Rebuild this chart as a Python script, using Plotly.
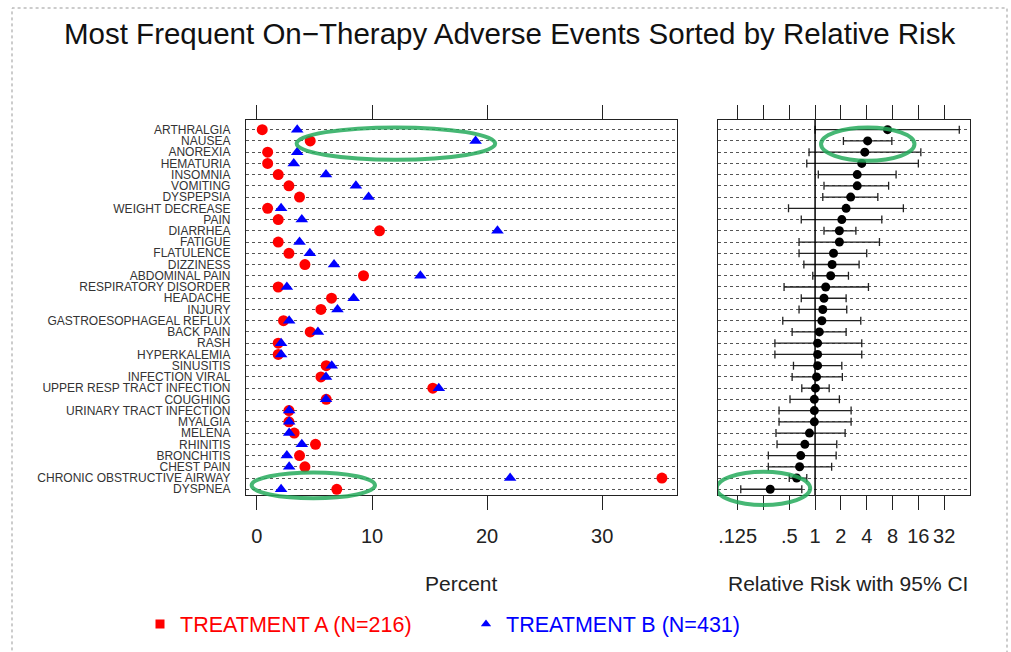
import numpy as np
import plotly.graph_objects as go

# Adverse events, ordered by relative risk (highest first)
events = [
    "ARTHRALGIA", "NAUSEA", "ANOREXIA", "HEMATURIA", "INSOMNIA", "VOMITING",
    "DYSPEPSIA", "WEIGHT DECREASE", "PAIN", "DIARRHEA", "FATIGUE", "FLATULENCE",
    "DIZZINESS", "ABDOMINAL PAIN", "RESPIRATORY DISORDER", "HEADACHE", "INJURY",
    "GASTROESOPHAGEAL REFLUX", "BACK PAIN", "RASH", "HYPERKALEMIA", "SINUSITIS",
    "INFECTION VIRAL", "UPPER RESP TRACT INFECTION", "COUGHING",
    "URINARY TRACT INFECTION", "MYALGIA", "MELENA", "RHINITIS", "BRONCHITIS",
    "CHEST PAIN", "CHRONIC OBSTRUCTIVE AIRWAY", "DYSPNEA",
]

# Percent of patients with each event
pct_a = [0.46, 4.63, 0.93, 0.93, 1.85, 2.78, 3.70, 0.93, 1.85, 10.65, 1.85,
         2.78, 4.17, 9.26, 1.85, 6.48, 5.56, 2.31, 4.63, 1.85, 1.85, 6.02,
         5.56, 15.28, 6.02, 2.78, 2.78, 3.24, 5.09, 3.70, 4.17, 35.19, 6.94]
pct_b = [3.5, 19.0, 3.5, 3.2, 6.0, 8.6, 9.7, 2.1, 3.9, 20.9, 3.7,
         4.6, 6.7, 14.2, 2.6, 8.4, 7.0, 2.8, 5.3, 2.1, 2.1, 6.5,
         6.0, 15.8, 6.0, 2.8, 2.8, 2.8, 3.9, 2.6, 2.8, 22.0, 2.1]

# Relative risk (B vs A) with 95% confidence limits
rel_risk = [7.0, 4.1, 3.8, 3.5, 3.1, 3.1, 2.6, 2.3, 2.05, 1.92, 1.92,
            1.64, 1.58, 1.52, 1.33, 1.27, 1.23, 1.2, 1.12, 1.07, 1.07, 1.07,
            1.04, 1.01, 0.98, 0.98, 0.98, 0.86, 0.76, 0.68, 0.66, 0.61, 0.30]
ci_low = [1.0, 2.14, 0.85, 0.80, 1.09, 1.27, 1.23, 0.49, 0.69, 1.27, 0.65,
          0.65, 0.74, 0.94, 0.435, 0.69, 0.65, 0.42, 0.54, 0.34, 0.34, 0.56,
          0.54, 0.70, 0.51, 0.38, 0.38, 0.35, 0.36, 0.285, 0.285, 0.50, 0.136]
ci_high = [48, 7.85, 17.1, 16.0, 8.8, 7.2, 5.39, 10.7, 6.0, 2.99, 5.63,
           4.0, 3.26, 2.45, 4.19, 2.3, 2.34, 3.41, 2.3, 3.5, 3.5, 2.05,
           2.08, 1.46, 1.92, 2.63, 2.63, 2.24, 1.79, 1.76, 1.56, 0.80, 0.70]

rr_tick_vals = [0.125, 0.25, 0.5, 1, 2, 4, 8, 16, 32]
rr_tick_text = [".125", "", ".5", "1", "2", "4", "8", "16", "32"]
pct_ticks = [0, 10, 20, 30]

W, H = 1011, 652
FONT = "Liberation Sans, Arial, sans-serif"
GREEN = "rgba(38,170,92,0.85)"

rows = list(range(len(events)))
y_range = [32.51, -0.86]
left_dom = [246 / W, 677 / W]
right_dom = [718 / W, 970 / W]
y_dom = [1 - 495 / H, 1 - 120 / H]


def row_to_paper(r):
    frac = (y_range[0] - r) / (y_range[0] - y_range[1])
    return y_dom[0] + frac * (y_dom[1] - y_dom[0])


log_rr = np.log2(rel_risk)
err_plus = np.log2(ci_high) - log_rr
err_minus = log_rr - np.log2(ci_low)

fig = go.Figure()

fig.add_trace(go.Scatter(
    x=pct_a, y=rows, mode="markers", xaxis="x", yaxis="y",
    marker=dict(symbol="circle", size=11, color="#ff0000"),
    showlegend=False))
fig.add_trace(go.Scatter(
    x=pct_b, y=rows, mode="markers", xaxis="x", yaxis="y",
    marker=dict(symbol="triangle-up", size=11, color="#0000ff"),
    showlegend=False))

fig.add_trace(go.Scatter(
    x=log_rr, y=rows, mode="markers", xaxis="x2", yaxis="y2",
    marker=dict(symbol="circle", size=9, color="black"),
    error_x=dict(type="data", symmetric=False, array=err_plus,
                 arrayminus=err_minus, color="#222", thickness=1.3, width=4),
    showlegend=False))

# legend entries
fig.add_trace(go.Scatter(
    x=[None], y=[None], mode="markers", xaxis="x", yaxis="y",
    marker=dict(symbol="square", size=9, color="#ff0000"),
    name="<span style='color:#ff0000'>TREATMENT A (N=216)</span>"))
fig.add_trace(go.Scatter(
    x=[None], y=[None], mode="markers", xaxis="x", yaxis="y",
    marker=dict(symbol="triangle-up", size=9, color="#0000ff"),
    name="<span style='color:#0000ff'>TREATMENT B (N=431)</span>"))

axis_common = dict(showline=True, linecolor="#222", linewidth=1.3,
                   ticks="outside", ticklen=14, tickcolor="#222", tickwidth=1,
                   mirror="ticks", showgrid=False, zeroline=False,
                   ticklabelstandoff=9,
                   tickfont=dict(size=20, color="#222", family=FONT))

grid_y = dict(range=y_range, tickvals=rows, showgrid=True, gridcolor="#555",
              gridwidth=1, griddash="dot", zeroline=False, showline=True,
              linecolor="#222", linewidth=1.3, mirror=True, ticks="",
              domain=y_dom)

fig.update_layout(
    width=W, height=H, autosize=False,
    margin=dict(l=0, r=0, t=0, b=0),
    paper_bgcolor="white", plot_bgcolor="white",
    font=dict(family=FONT, color="#222"),
    xaxis=dict(domain=left_dom, range=[-0.95, 36.5], tickvals=pct_ticks,
               anchor="y", **axis_common),
    yaxis=dict(anchor="x", ticktext=events,
               tickfont=dict(size=12, color="#333", family=FONT),
               ticklabelstandoff=12, **grid_y),
    xaxis2=dict(domain=right_dom, range=[-3.76, 6.0],
                tickvals=list(np.log2(rr_tick_vals)), ticktext=rr_tick_text,
                anchor="y2", **axis_common),
    yaxis2=dict(anchor="x2", showticklabels=False, **grid_y),
    legend=dict(orientation="h", x=140 / W, xanchor="left",
                y=1 - 624 / H, yanchor="middle",
                font=dict(size=21.5, family=FONT),
                entrywidth=281, entrywidthmode="pixels",
                bgcolor="rgba(0,0,0,0)", itemclick=False),
    showlegend=True,
)

shapes = [
    # reference line at relative risk = 1
    dict(type="line", xref="x2", yref="y2 domain", x0=0, x1=0, y0=0, y1=1,
         line=dict(color="black", width=1.5)),
    # outer frame
    dict(type="rect", xref="paper", yref="paper", x0=12 / W, x1=1007 / W,
         y0=-0.05, y1=1 - 8 / H, line=dict(color="#999", width=1, dash="dot")),
]

# highlight rings
rings = [
    ("x", 3.45, 20.7, -0.2, 2.67),
    ("x", -0.46, 10.26, 30.5, 32.8),
    ("x2", 0.23, 3.85, -0.2, 2.76),
    ("x2", -3.81, -0.19, 30.43, 33.4),
]
for xr, xa, xb, ra, rb in rings:
    shapes.append(dict(type="circle", xref=xr, yref="paper", x0=xa, x1=xb,
                       y0=row_to_paper(rb), y1=row_to_paper(ra),
                       line=dict(color=GREEN, width=4), layer="above"))
fig.update_layout(shapes=shapes)

annotations = [
    dict(text="Most Frequent On\u2212Therapy Adverse Events Sorted by Relative Risk",
         x=509 / W, y=1 - 33 / H, xref="paper", yref="paper",
         xanchor="center", yanchor="middle", showarrow=False,
         font=dict(size=29.5, color="#111", family=FONT)),
    dict(text="Percent", x=sum(left_dom) / 2, y=1 - 583 / H,
         xref="paper", yref="paper", xanchor="center", yanchor="middle",
         showarrow=False, font=dict(size=21, color="#222", family=FONT)),
    dict(text="Relative Risk with 95% CI", x=sum(right_dom) / 2 + 4 / W,
         y=1 - 583 / H, xref="paper", yref="paper", xanchor="center",
         yanchor="middle", showarrow=False,
         font=dict(size=21, color="#222", family=FONT)),
]
fig.update_layout(annotations=annotations)

fig.write_html("out.html")
